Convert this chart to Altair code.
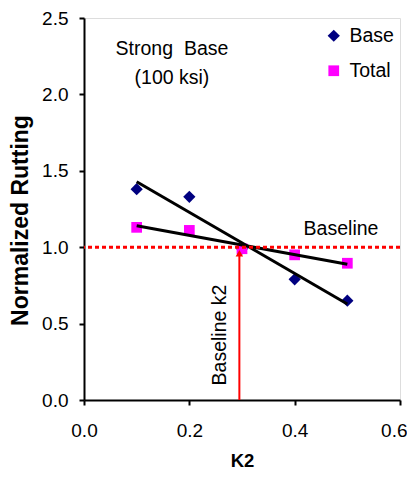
import altair as alt
import pandas as pd

k2 = [0.1, 0.2, 0.3, 0.4, 0.5]
base = [1.38, 1.33, 0.99, 0.79, 0.65]
total = [1.13, 1.11, 0.99, 0.95, 0.895]
series_names = ["Base", "Total"]
x_ticks = [0.0, 0.2, 0.4, 0.6]
y_ticks = [0.0, 0.5, 1.0, 1.5, 2.0, 2.5]
baseline_value = 1.0
baseline_k2 = 0.295
arrow_top = 0.96
notes_text = ["Strong\u00a0\u00a0Base", "(100 ksi)", "Baseline"]
notes_x = [0.167, 0.167, 0.488]
notes_y = [2.30, 2.11, 1.12]
vnote_text = ["Baseline k2"]
vnote_x = [0.258]
vnote_y = [0.425]

FONT = "Liberation Sans"

rows = []
for s, vals in zip(series_names, [base, total]):
    for xv, yv in zip(k2, vals):
        rows.append({"k2": xv, "value": yv, "series": s})
df = pd.DataFrame(rows)

xs = alt.Scale(domain=[0, 0.6], nice=False, zero=False)
ys = alt.Scale(domain=[0, 2.5], nice=False, zero=False)

xaxis = alt.Axis(values=x_ticks, format=".1f", title="K2", grid=False, tickSize=5,
                 labelFontSize=19, titleFontSize=18.5, titleFontWeight="bold",
                 labelPadding=16, titlePadding=11, domainWidth=2, tickWidth=2, labelFlush=False,
                 labelAlign={"condition": {"test": "datum.value >= 0.59", "value": "right"}, "value": "center"},
                 labelOffset={"condition": {"test": "datum.value >= 0.59", "value": 7}, "value": 0},
                 domainColor="black", tickColor="black", labelColor="black", titleColor="black",
                 labelFont=FONT, titleFont=FONT)
yaxis = alt.Axis(values=y_ticks, format=".1f", title="Normalized Rutting", grid=False, tickSize=5,
                 labelFontSize=19, titleFontSize=23, titleFontWeight="bold",
                 labelPadding=11, titlePadding=9, domainWidth=2, tickWidth=2, labelFlush=False,
                 titleY=202,
                 domainColor="black", tickColor="black", labelColor="black", titleColor="black",
                 labelFont=FONT, titleFont=FONT)

X = alt.X("k2:Q", scale=xs, axis=xaxis)
Y = alt.Y("value:Q", scale=ys, axis=yaxis)

leg = alt.Legend(title=None, orient="none", legendX=240, legendY=8,
                 labelFontSize=19.5, labelFont=FONT, labelColor="black",
                 symbolSize=130, rowPadding=14, labelOffset=6, padding=0,
                 symbolStrokeWidth=0)

points = alt.Chart(df).mark_point(filled=True, opacity=1, strokeWidth=0).encode(
    x=X, y=Y,
    color=alt.Color("series:N", scale=alt.Scale(domain=series_names, range=["#000080", "#FF00FF"]),
                    legend=leg),
    shape=alt.Shape("series:N", scale=alt.Scale(domain=series_names, range=["diamond", "square"]),
                    legend=leg),
    size=alt.Size("series:N", scale=alt.Scale(domain=series_names, range=[150, 115]), legend=None),
    order=alt.Order("series:N"),
)

trend = alt.Chart(df).transform_regression("k2", "value", groupby=["series"]).mark_line(
    color="black", strokeWidth=3).encode(x="k2:Q", y="value:Q", detail="series:N")

hline = alt.Chart(pd.DataFrame({"y": [baseline_value]})).mark_rule(
    color="red", strokeDash=[4, 3], strokeWidth=3).encode(y="y:Q")

vdf = pd.DataFrame({"x": [baseline_k2], "y0": [0.0], "y1": [arrow_top]})
vline = alt.Chart(vdf).mark_rule(color="red", strokeWidth=2).encode(
    x="x:Q", y="y0:Q", y2="y1:Q")
head = alt.Chart(vdf).mark_point(shape="triangle-up", filled=True, color="red", opacity=1,
                                 size=55).encode(x="x:Q", y="y1:Q")

notes = alt.Chart(pd.DataFrame({"t": notes_text, "x": notes_x, "y": notes_y})).mark_text(
    fontSize=19.5, font=FONT, color="black", align="center", baseline="middle").encode(
    x="x:Q", y="y:Q", text="t:N")

vnote = alt.Chart(pd.DataFrame({"t": vnote_text, "x": vnote_x, "y": vnote_y})).mark_text(
    fontSize=19.5, font=FONT, color="black", align="center", baseline="middle", angle=270).encode(
    x="x:Q", y="y:Q", text="t:N")

chart = alt.layer(points, trend, hline, vline, head, notes, vnote).properties(
    width=316, height=382, autosize="none",
    padding={"left": 76, "top": 10, "right": 7, "bottom": 69},
).configure_view(stroke="black", strokeWidth=2).configure(background="white")

chart.save("out.html", embed_options={"renderer": "svg", "actions": False})
